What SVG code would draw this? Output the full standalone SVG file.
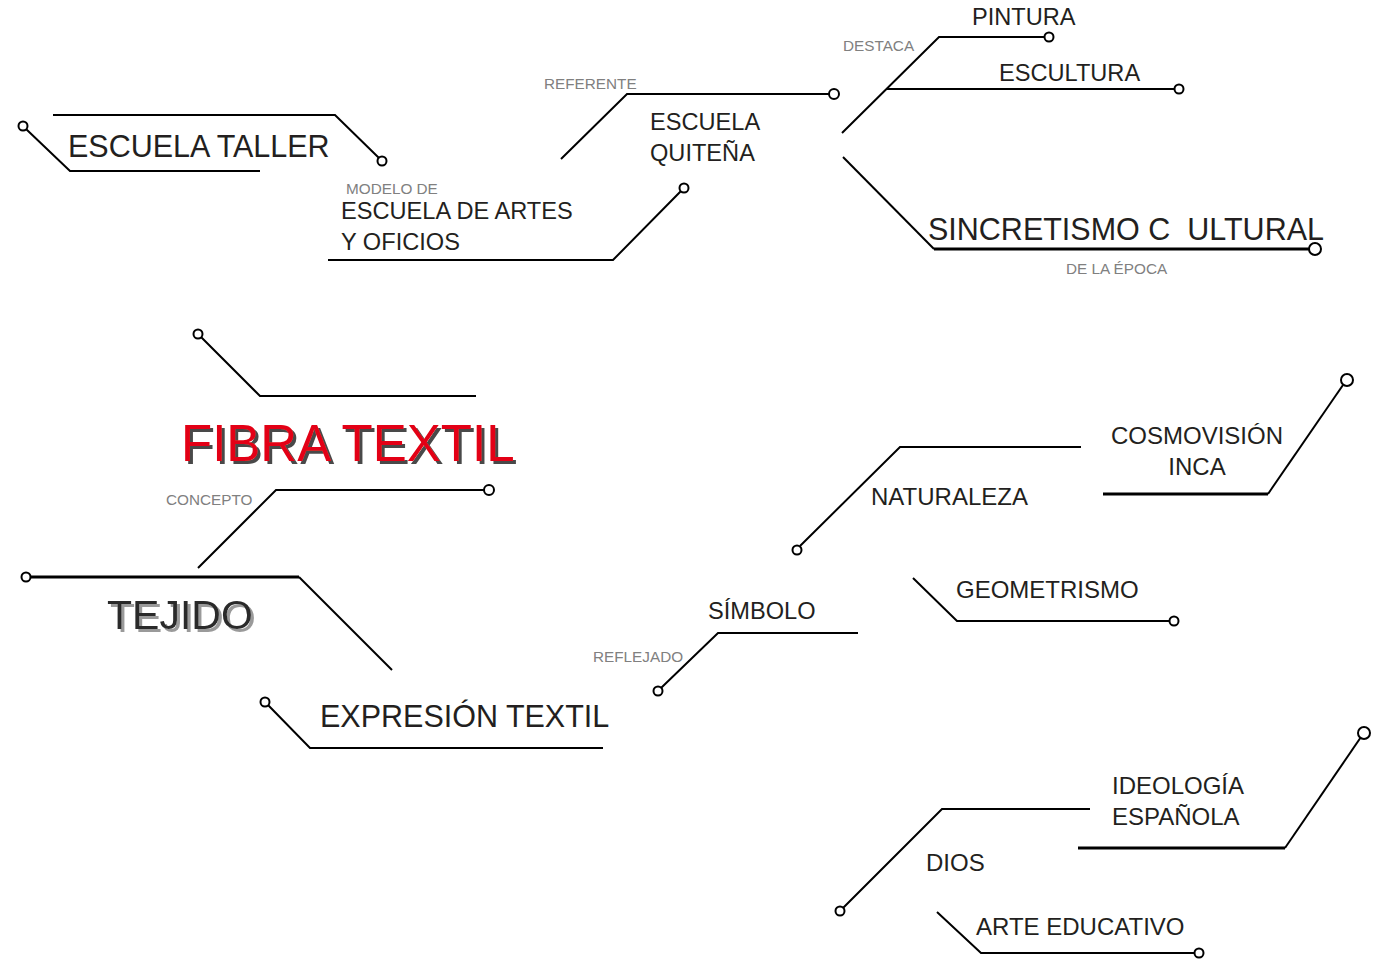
<svg xmlns="http://www.w3.org/2000/svg" width="1378" height="959" viewBox="0 0 1378 959">
<defs>
  <filter id="shRed" x="-5%" y="-10%" width="115%" height="130%">
    <feDropShadow dx="3" dy="3" stdDeviation="0.3" flood-color="#4a4a4a" flood-opacity="1"/>
  </filter>
  <filter id="shGray" x="-5%" y="-10%" width="115%" height="130%">
    <feDropShadow dx="3" dy="3" stdDeviation="0.3" flood-color="#9a9a9a" flood-opacity="1"/>
  </filter>
</defs>
<style>
.ln{fill:none;stroke:#000;stroke-width:2;stroke-linejoin:miter}
.thk{fill:none;stroke:#000;stroke-width:3.2}
.dot{fill:#fff;stroke:#000;stroke-width:2}
.t{font-family:"Liberation Sans",Arial,sans-serif;fill:#231f20}
.lg{font-size:30.5px}
.md{font-size:23.6px}
.mb{font-size:24px}
.sm{font-size:15.3px;fill:#808080}
.fib{font-family:"Liberation Sans",Arial,sans-serif;font-size:51px;fill:#e30613}
.tej{font-family:"Liberation Sans",Arial,sans-serif;font-size:41px;fill:#2b2b2b}
</style>
<rect width="1378" height="959" fill="#fff"/>
<g id="connectors">
  <polyline class="ln" points="53,115 335,115 379,158"/>
  <circle class="dot" cx="382" cy="161" r="4.5"/>
  <polyline class="ln" points="26,129 70,171 260,171"/>
  <circle class="dot" cx="23" cy="126" r="4.5"/>
  <polyline class="ln" points="561,159 627,94 829,94"/>
  <circle class="dot" cx="834" cy="94" r="5"/>
  <polyline class="ln" points="328,260 613,260 681,191"/>
  <circle class="dot" cx="684" cy="188" r="4.5"/>
  <polyline class="ln" points="842,133 939,37 1044,37"/>
  <circle class="dot" cx="1049" cy="37" r="4.5"/>
  <line class="ln" x1="887" y1="89" x2="1174" y2="89"/>
  <circle class="dot" cx="1179" cy="89" r="4.5"/>
  <polyline class="ln" points="843,157 934,249"/>
  <line class="thk" x1="934" y1="249" x2="1309" y2="249"/>
  <circle class="dot" cx="1315" cy="249" r="6"/>
  <polyline class="ln" points="201,337 260,396 476,396"/>
  <circle class="dot" cx="198" cy="334" r="4.5"/>
  <polyline class="ln" points="198,568 276,490 484,490"/>
  <circle class="dot" cx="489" cy="490" r="5"/>
  <line class="thk" x1="30" y1="577" x2="299" y2="577"/>
  <line class="ln" x1="299" y1="577" x2="392" y2="670"/>
  <circle class="dot" cx="26" cy="577" r="4.5"/>
  <polyline class="ln" points="268,705 310,748 603,748"/>
  <circle class="dot" cx="265" cy="702" r="4.5"/>
  <polyline class="ln" points="661,688 718,633 858,633"/>
  <circle class="dot" cx="658" cy="691" r="4.5"/>
  <polyline class="ln" points="800,546 900,447 1081,447"/>
  <circle class="dot" cx="797" cy="550" r="4.5"/>
  <line class="thk" x1="1103" y1="494" x2="1268" y2="494"/>
  <line class="ln" x1="1268" y1="494" x2="1343" y2="385"/>
  <circle class="dot" cx="1347" cy="380" r="6"/>
  <polyline class="ln" points="913,578 957,621 1169,621"/>
  <circle class="dot" cx="1174" cy="621" r="4.5"/>
  <polyline class="ln" points="843,908 942,809 1090,809"/>
  <circle class="dot" cx="840" cy="911" r="4.5"/>
  <line class="thk" x1="1078" y1="848" x2="1285" y2="848"/>
  <line class="ln" x1="1285" y1="848" x2="1361" y2="737"/>
  <circle class="dot" cx="1364" cy="733" r="6"/>
  <polyline class="ln" points="937,912 981,953 1194,953"/>
  <circle class="dot" cx="1199" cy="953" r="4.5"/>
</g>
<g id="escuela-taller"><text class="t lg" x="68" y="157">ESCUELA TALLER</text></g>
<g id="referente"><text class="t sm" x="544" y="89">REFERENTE</text></g>
<g id="escuela-quitena"><text class="t md" x="650" y="130">ESCUELA</text><text class="t md" x="650" y="161">QUITEÑA</text></g>
<g id="modelo-de"><text class="t sm" x="346" y="194">MODELO DE</text></g>
<g id="escuela-artes"><text class="t md" x="341" y="219">ESCUELA DE ARTES</text><text class="t md" x="341" y="250">Y OFICIOS</text></g>
<g id="destaca"><text class="t sm" x="843" y="51">DESTACA</text></g>
<g id="pintura"><text class="t md" x="972" y="25">PINTURA</text></g>
<g id="escultura"><text class="t md" x="999" y="81">ESCULTURA</text></g>
<g id="sincretismo"><text class="t lg" x="928" y="240" xml:space="preserve" style="white-space:pre">SINCRETISMO C  ULTURAL</text></g>
<g id="de-la-epoca"><text class="t sm" x="1066" y="274">DE LA ÉPOCA</text></g>
<g id="fibra-textil"><text class="fib" x="181" y="461" filter="url(#shRed)">FIBRA TEXTIL</text></g>
<g id="concepto"><text class="t sm" x="166" y="505">CONCEPTO</text></g>
<g id="tejido"><text class="tej" x="107" y="629" filter="url(#shGray)">TEJIDO</text></g>
<g id="expresion-textil"><text class="t lg" x="320" y="727">EXPRESIÓN TEXTIL</text></g>
<g id="reflejado"><text class="t sm" x="593" y="662">REFLEJADO</text></g>
<g id="simbolo"><text class="t md" x="708" y="619">SÍMBOLO</text></g>
<g id="naturaleza"><text class="t mb" x="871" y="505">NATURALEZA</text></g>
<g id="cosmovision"><text class="t mb" x="1197" y="444" text-anchor="middle">COSMOVISIÓN</text><text class="t mb" x="1197" y="475" text-anchor="middle">INCA</text></g>
<g id="geometrismo"><text class="t mb" x="956" y="598">GEOMETRISMO</text></g>
<g id="dios"><text class="t mb" x="926" y="871">DIOS</text></g>
<g id="ideologia"><text class="t mb" x="1112" y="794">IDEOLOGÍA</text><text class="t mb" x="1112" y="825">ESPAÑOLA</text></g>
<g id="arte-educativo"><text class="t mb" x="976" y="935">ARTE EDUCATIVO</text></g>
</svg>
